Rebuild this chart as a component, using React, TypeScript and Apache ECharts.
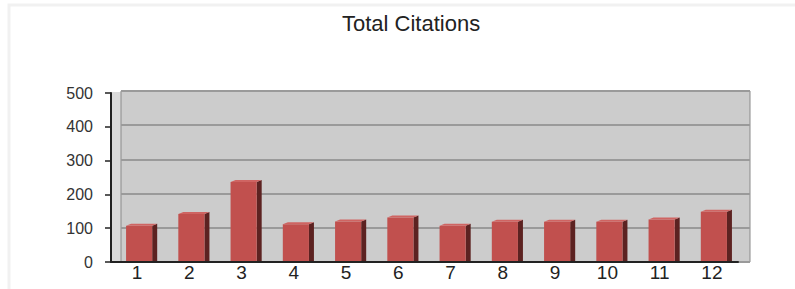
import React, { useEffect, useRef } from "react";
import * as echarts from "echarts";

const categories = ["1", "2", "3", "4", "5", "6", "7", "8", "9", "10", "11", "12"];
const citations = [107, 142, 237, 112, 120, 132, 107, 119, 119, 119, 126, 149];
const yTicks = { min: 0, max: 500, interval: 100 };
const titleText = "Total Citations";

export default function App() {
  const ref = useRef<HTMLDivElement>(null);
  useEffect(() => {
    if (!ref.current) return;
    const chart = echarts.init(ref.current, null, { renderer: "svg" });
    const font = "'Liberation Sans', Arial, Helvetica, sans-serif";
    chart.setOption({
      animation: false,
      backgroundColor: "#ffffff",
      title: {
        text: titleText,
        left: 337,
        top: 7,
        textStyle: { fontFamily: font, fontSize: 22, fontWeight: "normal", color: "#222" },
      },
      graphic: [
        {
          type: "rect",
          z: -10,
          shape: { x: 9, y: 5, width: 800, height: 300 },
          style: { fill: "none", stroke: "#f1f1f1", lineWidth: 3 },
        },
        {
          type: "rect",
          z: -5,
          shape: { x: 111, y: 92, width: 10, height: 170 },
          style: { fill: "#dadada" },
        },
      ],
      grid: [
        {
          left: 121, right: 45, top: 91, bottom: 27,
          show: true, backgroundColor: "#cccccc", borderColor: "#8a8a8a", borderWidth: 1,
        },
        { left: 111, right: 57, top: 93, bottom: 27 },
      ],
      xAxis: [
        { gridIndex: 0, type: "value", show: false, min: 0, max: 1 },
        {
          gridIndex: 1,
          type: "category",
          data: categories,
          boundaryGap: true,
          axisLine: { show: true, lineStyle: { color: "#222", width: 2 } },
          axisTick: { show: false },
          axisLabel: { margin: 1, fontFamily: font, fontSize: 19, color: "#222" },
        },
      ],
      yAxis: [
        {
          gridIndex: 0,
          type: "value",
          min: yTicks.min, max: yTicks.max, interval: yTicks.interval,
          axisLine: { show: false },
          axisTick: { show: false },
          axisLabel: { show: false },
          splitLine: { show: true, lineStyle: { color: "#9a9a9a", width: 2 } },
        },
        {
          gridIndex: 1,
          type: "value",
          min: yTicks.min, max: yTicks.max, interval: yTicks.interval,
          axisLine: { show: true, lineStyle: { color: "#222", width: 2 } },
          axisTick: { show: true, inside: false, length: 6, lineStyle: { color: "#222", width: 1.5 } },
          axisLabel: { margin: 18, fontFamily: font, fontSize: 16, color: "#333" },
          splitLine: { show: false },
        },
      ],
      series: [
        {
          type: "custom",
          xAxisIndex: 1,
          yAxisIndex: 1,
          z: 3,
          data: citations.map((v, i) => [i, v]),
          encode: { x: 0, y: 1 },
          renderItem: (params: any, api: any) => {
            const idx = api.value(0);
            const val = api.value(1);
            const top = api.coord([idx, val]);
            const base = api.coord([idx, 0]);
            const band = api.size([1, 0])[0];
            const w = band * 0.5;
            const cx = top[0] + 2;
            const x0 = cx - w / 2;
            const x1 = cx + w / 2;
            const d = 5;
            const lift = 2;
            return {
              type: "group",
              children: [
                {
                  type: "polygon",
                  shape: { points: [[x1, top[1]], [x1 + d, top[1] - lift], [x1 + d, base[1] - 1], [x1, base[1] - 1]] },
                  style: { fill: "#5c2221" },
                },
                {
                  type: "rect",
                  shape: { x: x0, y: top[1], width: w, height: base[1] - 1 - top[1] },
                  style: { fill: "#c1504e" },
                },
                {
                  type: "polygon",
                  shape: { points: [[x0, top[1]], [x0 + d, top[1] - lift], [x1 + d, top[1] - lift], [x1, top[1]]] },
                  style: { fill: "#cf6462" },
                },
              ],
            };
          },
        },
      ],
    });
    return () => chart.dispose();
  }, []);
  return <div ref={ref} style={{ width: 795, height: 289, position: "absolute", left: 0, top: 0 }} />;
}
